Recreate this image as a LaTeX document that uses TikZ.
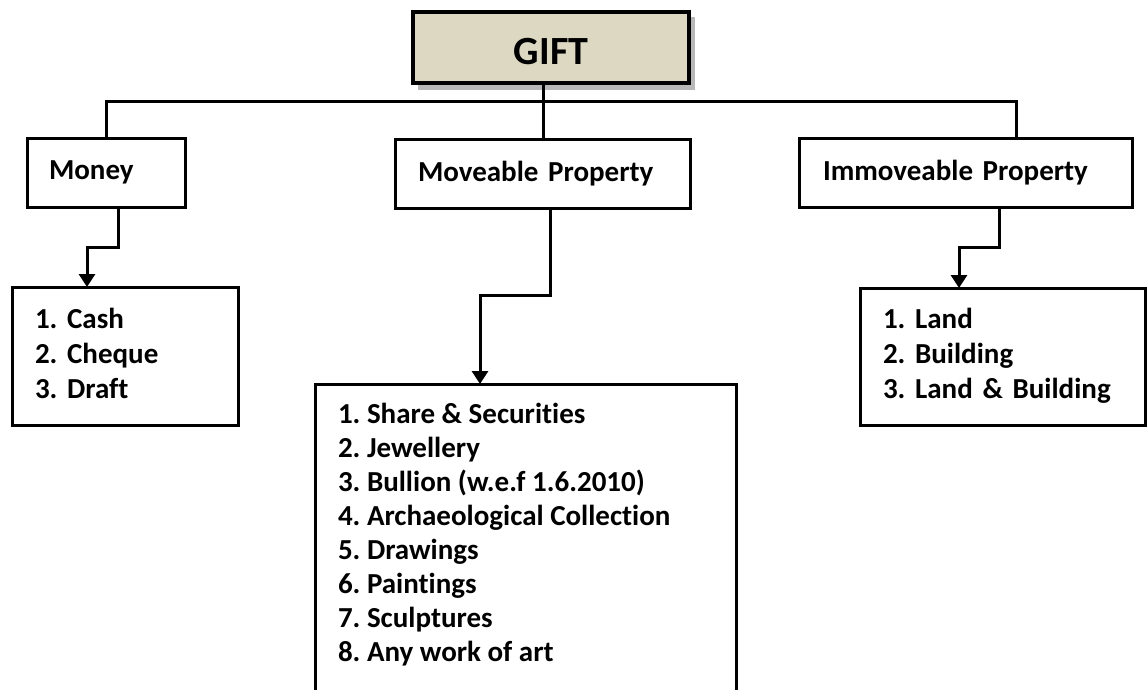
\documentclass[tikz,border=0pt]{standalone}
\usepackage{fontspec}
\setmainfont{Carlito}[Ligatures=NoCommon]
\usetikzlibrary{arrows.meta}
\definecolor{giftfill}{HTML}{DDD8C2}
\definecolor{shadowgray}{HTML}{B8B8B8}
\newcommand{\itemlist}[1]{\begin{tabular}[t]{@{}l@{}}#1\end{tabular}}
\begin{document}
\frenchspacing
\hyphenpenalty=10000
\begin{tikzpicture}[x=1pt,y=-1pt,
  box/.style={draw, line width=3pt, rectangle, anchor=north west, outer sep=0pt,
    font=\fontsize{29}{35}\selectfont\bfseries, align=left, inner ysep=0pt},
  conn/.style={line width=3pt},
  arr/.style={line width=3pt, -{Triangle[width=16pt,length=13pt]}}]
\useasboundingbox (0,0) rectangle (1147,689);
\clip (0,0) rectangle (1147,689);
% shadow of GIFT
\fill[shadowgray] (418,17) rectangle (695,90);
\node[draw, line width=4pt, anchor=north west, outer sep=0pt, fill=giftfill,
  minimum width=276pt, minimum height=71pt, text height=33pt, text depth=0pt,
  font=\fontsize{40}{48}\selectfont\bfseries] (gift) at (413,12) {GIFT};
% level 1
\node[box, text width=114pt, inner xsep=22pt, minimum height=69pt] (money) at (27,138) {Money};
\node[box, text width=249pt, inner xsep=23pt, minimum height=69pt] (mprop) at (395,139) {Moveable Property};
\node[box, text width=285pt, inner xsep=24pt, minimum height=69pt] (iprop) at (799,138) {Immoveable Property};
% level 2
\node[box, text width=180pt, inner xsep=23pt, minimum height=138pt] (mlist) at (12,287)
  {\begin{tabular}{@{}l@{}}1. Cash\\2. Cheque\\3. Draft\end{tabular}};
\node[box, text width=239pt, inner xsep=23pt, minimum height=137pt] (ilist) at (860,288)
  {\begin{tabular}{@{}l@{}}1. Land\\2. Building\\3. Land \& Building\end{tabular}};
\node[box, inner xsep=23pt, inner ysep=16pt, font=\fontsize{29}{34}\selectfont\bfseries] (plist) at (315,384)
  {\parbox[t][330pt][t]{375pt}{\itemlist{1. Share \& Securities\\2. Jewellery\\3. Bullion (w.e.f 1.6.2010)\\4. Archaeological Collection\\5. Drawings\\6. Paintings\\7. Sculptures\\8. Any work of art}}};
% helper coordinates
\coordinate (bar) at (0,101);
\coordinate (cm) at (543,0);
\coordinate (ci) at (1016,0);
\coordinate (a1) at (118,0);
\coordinate (a2) at (87,0);
\coordinate (b1) at (550,0);
\coordinate (b2) at (480,0);
\coordinate (d1) at (999,0);
\coordinate (d2) at (959,0);
\coordinate (y1) at (0,247);
\coordinate (y2) at (0,295);
% connectors from GIFT
\draw[conn] (gift.south -| cm) -- (mprop.north -| cm);
\draw[conn] (money.north) -- (money.north |- bar) -- (bar -| ci) -- (iprop.north -| ci);
% money
\draw[arr] (money.south -| a1) -- (y1 -| a1) -- (y1 -| a2) -- (mlist.north -| a2);
% moveable
\draw[arr] (mprop.south -| b1) -- (y2 -| b1) -- (y2 -| b2) -- (plist.north -| b2);
% immoveable
\draw[arr] (iprop.south -| d1) -- (y1 -| d1) -- (y1 -| d2) -- (ilist.north -| d2);
\end{tikzpicture}
\end{document}
